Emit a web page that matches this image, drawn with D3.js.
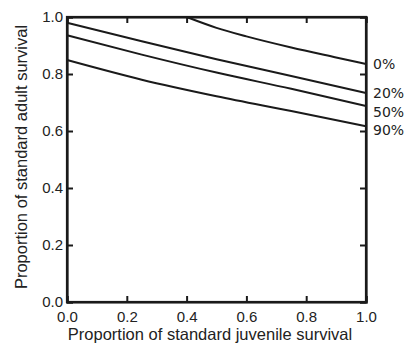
<!DOCTYPE html>
<html>
<head>
<meta charset="utf-8">
<script src="https://cdn.jsdelivr.net/npm/d3@7"></script>
<style>
  body { margin: 0; background: #fff; }
  text { font-family: "Liberation Sans", Arial, sans-serif; fill: #222; }
</style>
</head>
<body>
<script>
var width = 410, height = 348;
var margin = {top: 17, right: 44, bottom: 46, left: 67};

// juvenile survival proportion (x) and adult survival per scenario (y)
var juvX = [0, 0.25, 0.5, 0.75, 1.0];
var zeroX = [0.4, 0.5, 0.6, 0.75, 0.9, 1.0];
var zero = [1.0, 0.962, 0.932, 0.893, 0.858, 0.835];
var twenty = [0.98, 0.915, 0.852, 0.793, 0.733];
var fifty = [0.936, 0.868, 0.805, 0.748, 0.688];
var ninety = [0.849, 0.78, 0.722, 0.67, 0.617];
var seriesLabels = ["0%", "20%", "50%", "90%"];
var ticks = [0, 0.2, 0.4, 0.6, 0.8, 1.0];

var svg = d3.select("body").append("svg")
    .attr("width", width)
    .attr("height", height);

var x = d3.scaleLinear().domain([0, 1]).range([margin.left, width - margin.right]);
var y = d3.scaleLinear().domain([0, 1]).range([height - margin.bottom, margin.top]);

var series = [
  {name: seriesLabels[0], xs: zeroX, ys: zero, ly: 64},
  {name: seriesLabels[1], xs: juvX, ys: twenty, ly: 93},
  {name: seriesLabels[2], xs: juvX, ys: fifty, ly: 112},
  {name: seriesLabels[3], xs: juvX, ys: ninety, ly: 130}
];

var line = d3.line()
    .x(function(d) { return x(d[0]); })
    .y(function(d) { return y(d[1]); })
    .curve(d3.curveMonotoneX);

svg.selectAll(".curve")
  .data(series)
  .enter().append("path")
  .attr("class", "curve")
  .attr("fill", "none")
  .attr("stroke", "#1a1a1a")
  .attr("stroke-width", 2)
  .attr("d", function(s) { return line(s.xs.map(function(v, i) { return [v, s.ys[i]]; })); });

// inward ticks on all four sides
var tl = 6;
svg.append("g")
    .attr("transform", "translate(0," + y(0) + ")")
    .call(d3.axisBottom(x).tickValues(ticks).tickSize(-tl).tickPadding(9).tickFormat(d3.format(".1f")));
svg.append("g")
    .attr("transform", "translate(" + x(0) + ",0)")
    .call(d3.axisLeft(y).tickValues(ticks).tickSize(-tl).tickPadding(4).tickFormat(d3.format(".1f")));
svg.append("g")
    .attr("transform", "translate(0," + y(1) + ")")
    .call(d3.axisTop(x).tickValues(ticks).tickSize(-tl).tickFormat(""));
svg.append("g")
    .attr("transform", "translate(" + x(1) + ",0)")
    .call(d3.axisRight(y).tickValues(ticks).tickSize(-tl).tickFormat(""));

svg.selectAll(".domain").attr("stroke", "#1a1a1a").attr("stroke-width", 2.2);
svg.selectAll(".tick line").attr("stroke", "#1a1a1a").attr("stroke-width", 2);
svg.selectAll(".tick text")
    .attr("font-size", 15)
    .style("font-family", "Liberation Sans, Arial, sans-serif")
    .attr("fill", "#222");

// frame box
svg.append("rect")
    .attr("x", x(0)).attr("y", y(1))
    .attr("width", x(1) - x(0)).attr("height", y(0) - y(1))
    .attr("fill", "none")
    .attr("stroke", "#1a1a1a")
    .attr("stroke-width", 2.2);

svg.selectAll(".slabel")
  .data(series)
  .enter().append("text")
  .attr("class", "slabel")
  .attr("x", x(1) + 7)
  .attr("y", function(s) { return s.ly; })
  .attr("dy", "0.35em")
  .attr("font-size", 14)
  .style("font-family", "DejaVu Sans, sans-serif")
  .text(function(s) { return s.name; });

svg.append("text")
    .attr("x", 210)
    .attr("y", 340)
    .attr("text-anchor", "middle")
    .attr("font-size", 16.5)
    .text("Proportion of standard juvenile survival");

svg.append("text")
    .attr("transform", "translate(27," + 157 + ") rotate(-90)")
    .attr("text-anchor", "middle")
    .attr("font-size", 16.5)
    .text("Proportion of standard adult survival");
</script>
</body>
</html>
